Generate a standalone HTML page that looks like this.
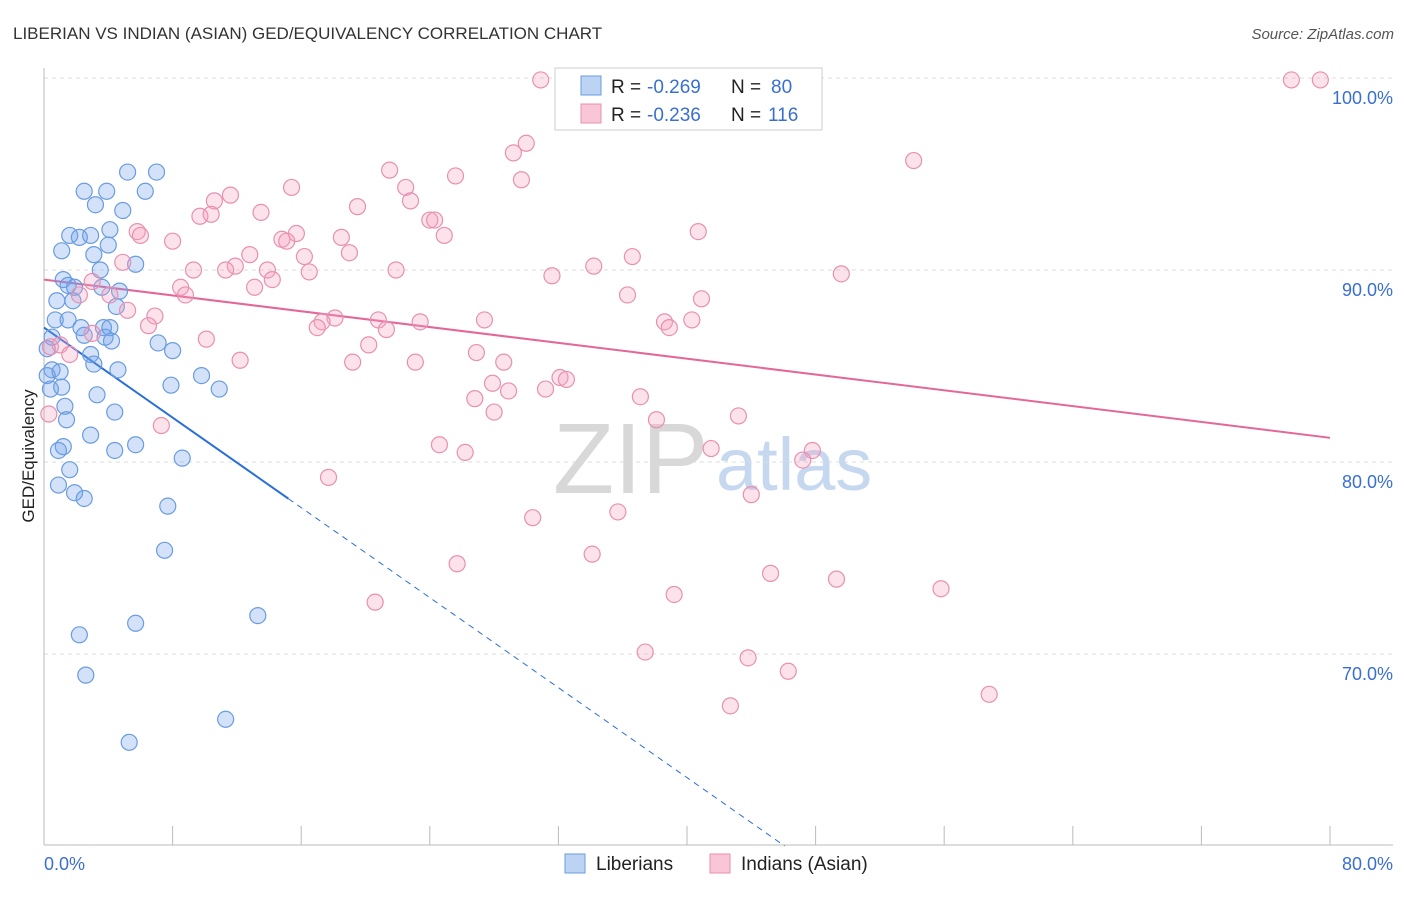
<!DOCTYPE html>
<html><head><meta charset="utf-8"><style>
body{margin:0;background:#fff;font-family:"Liberation Sans",sans-serif}
svg text{font-family:"Liberation Sans",sans-serif}
</style></head><body>
<svg id="chart" width="1406" height="892" xmlns="http://www.w3.org/2000/svg">
<text x="13" y="39" font-size="17" fill="#333">LIBERIAN VS INDIAN (ASIAN) GED/EQUIVALENCY CORRELATION CHART</text>
<text x="1394" y="39" font-size="15" fill="#555" font-style="italic" text-anchor="end">Source: ZipAtlas.com</text>
<g>
<text x="553" y="493" font-size="100" fill="#d8d8d8" font-family="Liberation Serif,serif">ZIP</text>
<text x="716" y="490" font-size="74" fill="#c6d8f0">atlas</text>
</g>
<g id="grid"></g><g id="axes"></g><g id="lines"></g><g id="pts"></g>
<text transform="translate(34,456) rotate(-90)" font-size="17" fill="#222" text-anchor="middle">GED/Equivalency</text>
<g>
<rect x="555" y="68" width="267" height="62" fill="#fff" stroke="#ccc"/>
<rect x="581" y="76" width="20" height="19" fill="#bcd3f3" stroke="#6a9ce0"/>
<rect x="581" y="104" width="20" height="19" fill="#f8c6d6" stroke="#e890b0"/>
<text x="611" y="93" font-size="19" fill="#222">R = </text><text x="647" y="93" font-size="19" fill="#3a6fd0">-0.269</text>
<text x="731" y="93" font-size="19" fill="#222">N = </text><text x="771" y="93" font-size="19" fill="#3a6fd0">80</text>
<text x="611" y="121" font-size="19" fill="#222">R = </text><text x="647" y="121" font-size="19" fill="#3a6fd0">-0.236</text>
<text x="731" y="121" font-size="19" fill="#222">N = </text><text x="768" y="121" font-size="19" fill="#3a6fd0">116</text>
</g>
<g>
<rect x="565" y="854" width="20" height="19" fill="#bcd3f3" stroke="#6a9ce0"/>
<text x="596" y="870" font-size="19" fill="#222">Liberians</text>
<rect x="710" y="854" width="20" height="19" fill="#f8c6d6" stroke="#e890b0"/>
<text x="741" y="870" font-size="19" fill="#222">Indians (Asian)</text>
</g>
</svg>
<script>
const yTicks=[100,90,80,70];
const yTickLabels=["100.0%","90.0%","80.0%","70.0%"];
const xTicks=[0,8,16,24,32,40,48,56,64,72,80];
const xEndLabels=["0.0%","80.0%"];
const blueX=[5.2,7.0,2.5,3.9,6.3,3.2,4.9,4.1,1.6,2.2,2.9,4.0,1.1,3.1,5.7,3.5,1.2,1.5,1.9,3.6,4.7,0.8,1.8,4.5,0.7,1.5,2.3,3.7,4.1,0.5,2.5,3.8,4.2,7.1,8.0,0.2,2.9,3.1,4.6,0.5,1.0,0.2,9.8,1.1,0.4,7.9,10.9,3.3,1.3,4.4,1.4,2.9,5.7,1.2,0.9,4.4,8.6,1.6,0.9,1.9,2.5,7.7,7.5,13.3,5.7,2.2,2.6,11.3,5.3];
const blueY=[95.1,95.1,94.1,94.1,94.1,93.4,93.1,92.1,91.8,91.7,91.8,91.3,91.0,90.8,90.3,90.0,89.5,89.2,89.1,89.1,88.9,88.4,88.4,88.1,87.4,87.4,87.0,87.0,87.0,86.5,86.6,86.5,86.3,86.2,85.8,85.9,85.6,85.1,84.8,84.8,84.7,84.5,84.5,83.9,83.8,84.0,83.8,83.5,82.9,82.6,82.2,81.4,80.9,80.8,80.6,80.6,80.2,79.6,78.8,78.4,78.1,77.7,75.4,72.0,71.6,71.0,68.9,66.6,65.4];
const pinkX=[30.9,46.8,77.6,79.4,30.0,29.2,54.1,21.5,25.6,29.7,15.4,22.5,11.6,10.6,22.8,19.5,13.5,9.7,10.4,24.0,24.3,5.8,6.0,40.7,24.9,15.7,18.5,8.0,14.8,15.1,12.8,16.2,19.0,36.6,4.9,11.9,9.3,11.3,13.9,16.5,21.9,34.2,31.6,49.6,14.2,3.0,8.5,13.1,8.8,4.1,2.2,36.3,40.9,5.2,6.9,18.1,20.8,27.4,40.3,17.3,23.4,38.6,38.9,6.5,17.0,21.3,3.0,10.1,20.2,0.4,26.9,12.2,19.2,23.1,28.6,32.1,32.5,27.9,28.9,31.2,26.8,37.1,28.0,43.2,38.1,7.3,24.6,41.5,26.2,47.8,47.2,17.7,44.0,35.7,30.4,34.1,25.7,45.2,49.3,55.8,39.2,20.6,37.4,43.8,46.3,58.8,42.7,1.0,1.6,0.3];
const pinkY=[99.9,99.9,99.9,99.9,96.6,96.1,95.7,95.2,94.9,94.7,94.3,94.3,93.9,93.6,93.6,93.3,93.0,92.8,92.9,92.6,92.6,92.0,91.8,92.0,91.8,91.9,91.7,91.5,91.6,91.5,90.8,90.7,90.9,90.7,90.4,90.2,90.0,90.0,90.0,89.9,90.0,90.2,89.7,89.8,89.5,89.4,89.1,89.1,88.7,88.7,88.7,88.7,88.5,87.9,87.6,87.5,87.4,87.4,87.4,87.3,87.3,87.3,87.0,87.1,87.0,86.9,86.7,86.4,86.1,86.0,85.7,85.3,85.2,85.2,85.2,84.4,84.3,84.1,83.7,83.8,83.3,83.4,82.6,82.4,82.2,81.9,80.9,80.7,80.5,80.6,80.1,79.2,78.3,77.4,77.1,75.2,74.7,74.2,73.9,73.4,73.1,72.7,70.1,69.8,69.1,67.9,67.3,86.1,85.6,82.5];
const blueTrend=[87.0,-0.586];
const pinkTrend=[89.5,-0.103];
const X0=44,XS=16.075,Y0=78,YS=19.2;
const sx=v=>X0+v*XS, sy=v=>Y0+(100-v)*YS;
const NS="http://www.w3.org/2000/svg";
function mk(t,a,p){const e=document.createElementNS(NS,t);for(const k in a)e.setAttribute(k,a[k]);p.appendChild(e);return e;}
const grid=document.getElementById('grid'),axes=document.getElementById('axes'),lines=document.getElementById('lines'),pts=document.getElementById('pts');
yTicks.forEach((t,i)=>{
 const l=mk('line',{x1:44,x2:1393,y1:sy(t),y2:sy(t),stroke:'#ddd','stroke-dasharray':'4,4'},grid);
 
 
 const tx=mk('text',{x:1393,y:sy(t)+26,'font-size':18,fill:'#3a6fd0','text-anchor':'end'},axes);
 tx.textContent=yTickLabels[i];
 
 
});
const ya=mk('line',{x1:44,x2:44,y1:68,y2:845,stroke:'#bbb'},axes);


const xa=mk('line',{x1:44,x2:1393,y1:845,y2:845,stroke:'#bbb'},axes);


xTicks.forEach(t=>{
 const tk=mk('line',{x1:sx(t),x2:sx(t),y1:826,y2:845,stroke:'#bbb'},axes);
 
 
});
const xl0=mk('text',{x:44,y:870,'font-size':18,fill:'#3a6fd0'},axes);xl0.textContent=xEndLabels[0];


const xl1=mk('text',{x:1393,y:870,'font-size':18,fill:'#3a6fd0','text-anchor':'end'},axes);xl1.textContent=xEndLabels[1];


blueX.forEach((x,i)=>{const c=mk('circle',{cx:sx(x),cy:sy(blueY[i]),r:8,fill:'rgba(110,160,235,0.3)',stroke:'#6a9ce0','stroke-width':1.2},pts);
 
 });
pinkX.forEach((x,i)=>{const c=mk('circle',{cx:sx(x),cy:sy(pinkY[i]),r:8,fill:'rgba(245,160,190,0.3)',stroke:'#e890b0','stroke-width':1.2},pts);
 
 });
const bEnd=15.2, bZero=(blueTrend[0]-60)/-blueTrend[1];
const bl=mk('line',{x1:sx(0),y1:sy(blueTrend[0]),x2:sx(bEnd),y2:sy(blueTrend[0]+blueTrend[1]*bEnd),stroke:'#2a6fd6','stroke-width':2},lines);


const bd=mk('line',{x1:sx(bEnd),y1:sy(blueTrend[0]+blueTrend[1]*bEnd),x2:sx(bZero),y2:sy(60),stroke:'#2a6fd6','stroke-width':1,'stroke-dasharray':'6,5'},lines);


const pl=mk('line',{x1:sx(0),y1:sy(pinkTrend[0]),x2:sx(80),y2:sy(pinkTrend[0]+pinkTrend[1]*80),stroke:'#e4679a','stroke-width':2},lines);


</script>
</body></html>
